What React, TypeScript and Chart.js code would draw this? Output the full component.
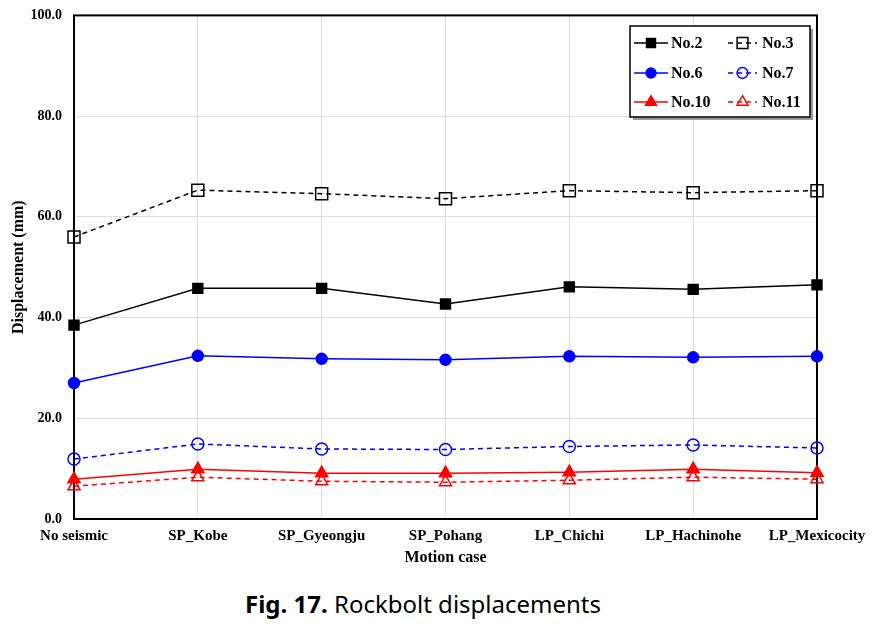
import React, { useEffect, useRef } from "react";
import { Chart, registerables } from "chart.js";
import { drawPoint } from "chart.js/helpers";

Chart.register(...registerables);

const categories = ["No seismic", "SP_Kobe", "SP_Gyeongju", "SP_Pohang", "LP_Chichi", "LP_Hachinohe", "LP_Mexicocity"];
const no2 = [38.5, 45.8, 45.8, 42.7, 46.1, 45.6, 46.5];
const no3 = [56.0, 65.3, 64.6, 63.6, 65.2, 64.8, 65.2];
const no6 = [27.0, 32.4, 31.8, 31.6, 32.3, 32.1, 32.3];
const no7 = [11.9, 14.9, 13.9, 13.8, 14.4, 14.7, 14.1];
const no10 = [7.9, 9.9, 9.1, 9.1, 9.3, 9.9, 9.2];
const no11 = [6.5, 8.3, 7.5, 7.3, 7.7, 8.3, 7.9];
const yTicks = [0, 20, 40, 60, 80, 100];

const SERIF = "'Liberation Serif', 'Times New Roman', serif";
const CLEAR = "rgba(0,0,0,0)";
const SHIFT = 5;

const borderPlugin = {
  id: "plotBorder",
  beforeDatasetsDraw(chart: any) {
    const { ctx, chartArea: a } = chart;
    ctx.save();
    ctx.strokeStyle = "#000";
    ctx.lineWidth = 2;
    ctx.strokeRect(a.left, a.top, a.right - a.left, a.bottom - a.top);
    ctx.restore();
  },
};

const legendPlugin = {
  id: "boxLegend",
  afterDraw(chart: any) {
    const { ctx } = chart;
    const bx = 630, by = 26 + SHIFT, bw = 180, bh = 91;
    ctx.save();
    ctx.fillStyle = "#9a9a9a";
    ctx.fillRect(bx + 3, by + 3, bw, bh);
    ctx.fillStyle = "#fff";
    ctx.fillRect(bx, by, bw, bh);
    ctx.strokeStyle = "#000";
    ctx.lineWidth = 1.5;
    ctx.strokeRect(bx, by, bw, bh);
    const colLine = [[634, 668], [728, 757]];
    const colText = [671, 762];
    const rowY = [43 + SHIFT, 73 + SHIFT, 102 + SHIFT];
    chart.data.datasets.forEach((ds: any, i: number) => {
      const col = i % 2;
      const row = Math.floor(i / 2);
      const y = rowY[row];
      const [x0, x1] = colLine[col];
      ctx.save();
      ctx.strokeStyle = ds.borderColor;
      ctx.lineWidth = ds.borderWidth;
      ctx.setLineDash(ds.borderDash || []);
      ctx.beginPath();
      ctx.moveTo(x0, y);
      ctx.lineTo(x1, y);
      ctx.stroke();
      ctx.restore();
      ctx.save();
      ctx.strokeStyle = ds.pointBorderColor;
      ctx.fillStyle = ds.pointBackgroundColor;
      ctx.lineWidth = ds.pointBorderWidth;
      drawPoint(ctx, { pointStyle: ds.pointStyle, radius: ds.pointRadius * 0.9, rotation: 0, borderWidth: ds.pointBorderWidth }, (x0 + x1) / 2, y);
      ctx.restore();
      ctx.fillStyle = "#000";
      ctx.font = `bold 16px ${SERIF}`;
      ctx.textBaseline = "middle";
      ctx.textAlign = "left";
      ctx.fillText(ds.label, colText[col], y + 1);
    });
    ctx.restore();
  },
};

function mk(label: string, data: number[], color: string, dashed: boolean, style: string, filled: boolean, r: number) {
  return {
    label,
    data,
    borderColor: color,
    borderWidth: 1.5,
    borderDash: dashed ? [5, 4] : [],
    pointStyle: style,
    pointRadius: r,
    pointHoverRadius: r,
    pointBorderColor: color,
    pointBackgroundColor: filled ? color : CLEAR,
    pointBorderWidth: 1.5,
    tension: 0,
    fill: false,
  };
}

export default function App() {
  const ref = useRef<HTMLCanvasElement | null>(null);
  useEffect(() => {
    if (!ref.current) return;
    const chart = new Chart(ref.current, {
      type: "line",
      data: {
        labels: categories,
        datasets: [
          mk("No.2", no2, "#000000", false, "rect", true, 7),
          mk("No.3", no3, "#000000", true, "rect", false, 8.5),
          mk("No.6", no6, "#0000ff", false, "circle", true, 5.5),
          mk("No.7", no7, "#0000ff", true, "circle", false, 6),
          mk("No.10", no10, "#ff0000", false, "triangle", true, 7),
          mk("No.11", no11, "#ff0000", true, "triangle", false, 7),
        ] as any,
      },
      options: {
        animation: false,
        responsive: false,
        maintainAspectRatio: false,
        layout: { padding: { left: 0, right: 68, top: 10, bottom: 6 } },
        plugins: { legend: { display: false }, tooltip: { enabled: false } },
        scales: {
          x: {
            offset: false,
            grid: { color: "#dcdcdc", lineWidth: 1, drawTicks: false },
            border: { display: false },
            ticks: {
              color: "#000",
              font: { family: SERIF, weight: "bold", size: 15 },
              padding: 8,
              maxRotation: 0,
              autoSkip: false,
            },
            title: {
              display: true,
              text: "Motion case",
              color: "#000",
              font: { family: SERIF, weight: "bold", size: 16 },
              padding: { top: 0, bottom: 2 },
            },
            afterFit(scale: any) {
              scale.height = 50;
            },
          },
          y: {
            min: 0,
            max: 100,
            grid: { color: "#dcdcdc", lineWidth: 1, drawTicks: false },
            border: { display: false },
            afterBuildTicks(scale: any) {
              scale.ticks = yTicks.map((v) => ({ value: v }));
            },
            ticks: {
              color: "#000",
              font: { family: SERIF, weight: "bold", size: 14 },
              padding: 12,
              callback: (v: any) => Number(v).toFixed(1),
            },
            title: {
              display: true,
              text: "Displacement (mm)",
              color: "#000",
              font: { family: SERIF, weight: "bold", size: 16 },
              padding: { top: 9, bottom: 0 },
            },
            afterFit(scale: any) {
              scale.width = 74;
            },
          },
        },
      },
      plugins: [borderPlugin, legendPlugin],
    });
    return () => chart.destroy();
  }, []);

  return (
    <div style={{ position: "absolute", left: 0, top: 0, width: 885, height: 624, background: "#fff", overflow: "hidden" }}>
      <canvas ref={ref} width={885} height={580} style={{ position: "absolute", left: 0, top: -SHIFT, width: 885, height: 580 }} />
      <div
        style={{
          position: "absolute",
          left: 245,
          top: 589,
          whiteSpace: "nowrap",
          fontFamily: "'Noto Sans', sans-serif",
          fontSize: 24,
          color: "#000",
          lineHeight: "29px",
        }}
      >
        <b>Fig. 17.</b> Rockbolt displacements
      </div>
    </div>
  );
}
